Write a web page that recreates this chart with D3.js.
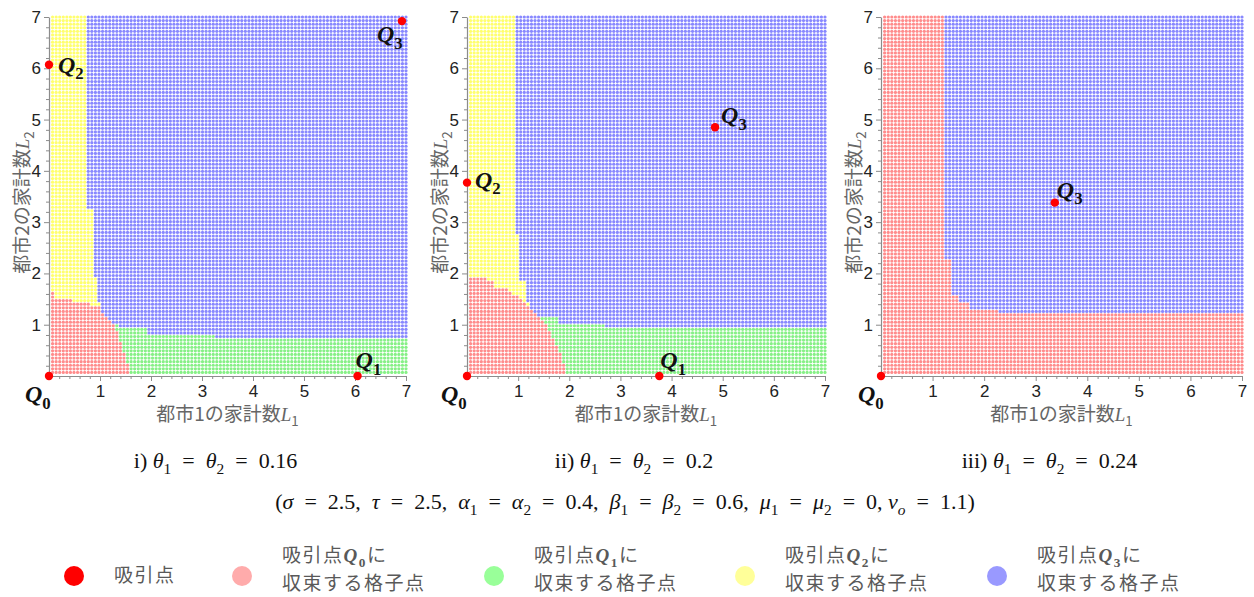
<!DOCTYPE html>
<html>
<head>
<meta charset="utf-8">
<script src="https://cdn.jsdelivr.net/npm/d3@7"></script>
<style>
  body { margin: 0; background: #fff; }
  svg { display: block; }
  text { white-space: pre; }
</style>
</head>
<body>
<svg width="1254" height="597"></svg>
<script>
// ---- data ----
const captionPrefix = ["i)", "ii)", "iii)"];
const thetaValues = ["0.16", "0.2", "0.24"];
const xTicks = [1, 2, 3, 4, 5, 6, 7];
const yTicks = [1, 2, 3, 4, 5, 6, 7];

// attractors per panel: [Q index, L1, L2]
const attractors = [
  [[0, 0, 0], [1, 6.05, 0], [2, 0, 6.07], [3, 6.92, 6.92]],
  [[0, 0, 0], [1, 3.76, 0], [2, 0, 3.77], [3, 4.85, 4.85]],
  [[0, 0, 0], [3, 3.37, 3.38]]
];

// basins of attraction, as staircase outlines in (L1, L2); Q3 gets what is left
const basinQ0 = [
  [[0, 0], [0, 1.62], [0.1, 1.62], [0.1, 1.52], [0.44, 1.52], [0.44, 1.42], [0.79, 1.42], [0.79, 1.35],
   [1.0, 1.35], [1.05, 1.25], [1.15, 1.15], [1.26, 1.03], [1.33, 0.85], [1.4, 0.65], [1.48, 0.45],
   [1.54, 0.25], [1.6, 0]],
  [[0, 0], [0, 1.94], [0.36, 1.94], [0.36, 1.85], [0.52, 1.85], [0.52, 1.75], [0.75, 1.75], [0.94, 1.58],
   [1.17, 1.39], [1.37, 1.19], [1.53, 1.03], [1.63, 0.83], [1.76, 0.57], [1.86, 0.38], [1.97, 0]],
  [[0, 0], [0, 7.1], [1.25, 7.1], [1.25, 2.26], [1.34, 2.26], [1.34, 1.6], [1.5, 1.6], [1.5, 1.45],
   [1.73, 1.45], [1.73, 1.33], [2.25, 1.33], [2.25, 1.22], [7.1, 1.22], [7.1, 0]]
];
const basinQ1 = [
  [[1.2, 0], [1.2, 1.02], [1.38, 1.02], [1.38, 0.92], [1.93, 0.92], [1.93, 0.82], [3.28, 0.82],
   [3.28, 0.73], [7.1, 0.73], [7.1, 0]],
  [[1.4, 0], [1.4, 1.13], [1.82, 1.13], [1.82, 1.03], [2.73, 1.03], [2.73, 0.95], [7.1, 0.95], [7.1, 0]],
  []
];
const basinQ2 = [
  [[0, 0], [0, 7.1], [0.74, 7.1], [0.74, 3.24], [0.85, 3.24], [0.85, 1.93], [0.95, 1.93], [0.95, 1.47],
   [1.03, 1.47], [1.03, 0]],
  [[0, 0], [0, 7.1], [0.94, 7.1], [0.94, 2.78], [1.04, 2.78], [1.04, 1.84], [1.14, 1.84], [1.14, 1.45],
   [1.22, 1.45], [1.22, 0]],
  []
];

// lattice of initial points
const gridStep = 0.07;
const gridValues = d3.range(1, 101).map(i => +(i * gridStep).toFixed(2));

// ---- layout ----
const svg = d3.select("svg");
const panelLeft = [49, 467, 881];
const panelWidth = [357, 358, 361];
const plotTop = 17, plotBottom = 376;
const dotColors = ["#ff8c8c", "#86f086", "#ffff6e", "#8888ff"];
const legendColors = ["#ff0000", "#ffabab", "#99ff99", "#ffff99", "#9999ff"];
const serif = "'Liberation Serif', 'DejaVu Serif', serif";
const cjk = "'Noto Sans CJK JP', 'Noto Sans', sans-serif";

// offsets of Q labels from their dot, per panel
const labelOffsets = [
  {0: [-24, 26], 1: [-2, -8], 2: [9, 8], 3: [-25, 21]},
  {0: [-26, 26], 1: [1, -8], 2: [8, 5], 3: [6, -4]},
  {0: [-23, 26], 3: [2, -5]}
];

// write text made of pieces: [string, kind]; kinds: "", "i", "sub", "isub", "bi", "bsub"
function richText(sel, parts, size) {
  let shift = 0;
  parts.forEach(([str, kind]) => {
    kind = kind || "";
    const ts = sel.append("tspan").text(str);
    const isSub = kind.includes("sub");
    const want = isSub ? size * 0.28 : 0;
    if (want !== shift) { ts.attr("dy", want - shift); shift = want; }
    if (isSub) ts.attr("font-size", size * 0.7);
    if (kind === "i" || kind === "isub" || kind === "bi") ts.attr("font-style", "italic");
    if (kind === "bi" || kind === "bsub") ts.attr("font-weight", "bold");
    if (kind === "i" || kind === "isub" || kind === "bi" || kind === "bsub") ts.attr("font-family", serif);
  });
  return sel;
}

panelLeft.forEach((left, p) => {
  const x = d3.scaleLinear().domain([0, 7]).range([left, left + panelWidth[p]]);
  const y = d3.scaleLinear().domain([0, 7]).range([plotBottom, plotTop]);
  const g = svg.append("g");

  // classify each lattice point
  const pts = [];
  gridValues.forEach(a => gridValues.forEach(b => {
    let k = 3;
    if (basinQ0[p].length && d3.polygonContains(basinQ0[p], [a, b])) k = 0;
    else if (basinQ1[p].length && d3.polygonContains(basinQ1[p], [a, b])) k = 1;
    else if (basinQ2[p].length && d3.polygonContains(basinQ2[p], [a, b])) k = 2;
    pts.push([a, b, k]);
  }));

  g.append("g").selectAll("circle")
    .data(pts)
    .join("circle")
      .attr("cx", d => x(d[0]))
      .attr("cy", d => y(d[1]))
      .attr("r", 1.6)
      .attr("fill", d => dotColors[d[2]]);

  // axes
  const axisStyle = ax => {
    ax.select(".domain").attr("stroke", "#8c8c8c").attr("stroke-width", 1.2);
    ax.selectAll(".tick line").attr("stroke", "#8c8c8c");
    ax.selectAll("text").attr("font-family", "'Liberation Sans', Arial, sans-serif")
      .attr("font-size", 17).attr("fill", "#222");
  };
  const minor = d3.range(0, 7.01, 0.2).filter(v => Math.abs(v - Math.round(v)) > 0.01);
  g.append("g").attr("transform", `translate(0,${plotBottom})`)
    .call(d3.axisBottom(x).tickValues(minor).tickSize(3).tickSizeOuter(0).tickFormat(""))
    .call(ax => ax.select(".domain").remove())
    .selectAll("line").attr("stroke", "#8c8c8c");
  g.append("g").attr("transform", `translate(${left},0)`)
    .call(d3.axisLeft(y).tickValues(minor).tickSize(3).tickSizeOuter(0).tickFormat(""))
    .call(ax => ax.select(".domain").remove())
    .selectAll("line").attr("stroke", "#8c8c8c");
  g.append("g").attr("transform", `translate(0,${plotBottom})`)
    .call(d3.axisBottom(x).tickValues(xTicks).tickFormat(d3.format("d"))
      .tickSize(5).tickSizeOuter(0).tickPadding(4))
    .call(axisStyle);
  g.append("g").attr("transform", `translate(${left},0)`)
    .call(d3.axisLeft(y).tickValues(yTicks).tickFormat(d3.format("d"))
      .tickSize(5).tickSizeOuter(0).tickPadding(3))
    .call(axisStyle);

  // axis titles
  richText(g.append("text")
      .attr("x", (x(0) + x(7)) / 2).attr("y", 421)
      .attr("text-anchor", "middle")
      .attr("font-family", cjk).attr("font-size", 19).attr("fill", "#666"),
    [["都市1の家計数"], ["L", "i"], ["1", "sub"]], 19);
  richText(g.append("text")
      .attr("transform", `translate(${left - 20},${(plotTop + plotBottom) / 2 + 6}) rotate(-90)`)
      .attr("text-anchor", "middle")
      .attr("font-family", cjk).attr("font-size", 19).attr("fill", "#666"),
    [["都市2の家計数"], ["L", "i"], ["2", "sub"]], 19);

  // attractors
  attractors[p].forEach(([q, a, b]) => {
    g.append("circle").attr("cx", x(a)).attr("cy", y(b)).attr("r", 4.2).attr("fill", "#ff0000");
    const [dx, dy] = labelOffsets[p][q];
    richText(g.append("text")
        .attr("x", x(a) + dx).attr("y", y(b) + dy)
        .attr("font-family", serif).attr("font-size", 24).attr("fill", "#111"),
      [["Q", "bi"], [String(q), "bsub"]], 24);
  });

  // caption
  richText(svg.append("text")
      .attr("x", (x(0) + x(7)) / 2 - 12).attr("y", 468)
      .attr("text-anchor", "middle")
      .attr("font-family", serif).attr("font-size", 22).attr("fill", "#111"),
    [[captionPrefix[p] + " "], ["θ", "i"], ["1", "sub"], ["  =  "], ["θ", "i"], ["2", "sub"],
     ["  =  " + thetaValues[p]]], 22);
});

// parameter line
richText(svg.append("text")
    .attr("x", 625).attr("y", 509)
    .attr("text-anchor", "middle")
    .attr("font-family", serif).attr("font-size", 22).attr("fill", "#111"),
  [["("], ["σ", "i"], ["  =  2.5,  "], ["τ", "i"], ["  =  2.5,  "],
   ["α", "i"], ["1", "sub"], ["  =  "], ["α", "i"], ["2", "sub"], ["  =  0.4,  "],
   ["β", "i"], ["1", "sub"], ["  =  "], ["β", "i"], ["2", "sub"], ["  =  0.6,  "],
   ["μ", "i"], ["1", "sub"], ["  =  "], ["μ", "i"], ["2", "sub"], ["  =  0, "],
   ["v", "i"], ["o", "isub"], ["  =  1.1)"]], 22);

// legend
const legendX = [74, 242, 494, 745, 997];
const legend = svg.append("g");
const legendFont = 19;
legendX.forEach((lx, i) => {
  legend.append("circle").attr("cx", lx).attr("cy", 576).attr("r", 10).attr("fill", legendColors[i]);
  const tx = lx + 40;
  const line = yy => legend.append("text").attr("x", tx).attr("y", yy)
    .attr("font-family", cjk).attr("font-size", legendFont)
    .attr("letter-spacing", 1.5).attr("fill", "#595959");
  if (i === 0) {
    line(582).text("吸引点");
  } else {
    richText(line(562), [["吸引点"], ["Q", "bi"], [String(i - 1), "bsub"], ["に"]], legendFont);
    line(590).text("収束する格子点");
  }
});
</script>
</body>
</html>
